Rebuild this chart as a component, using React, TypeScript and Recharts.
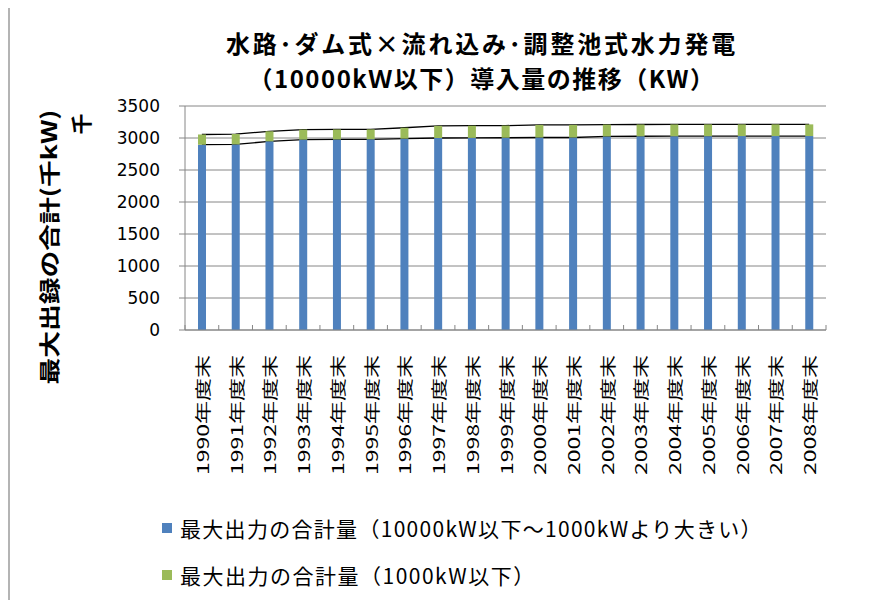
import { Bar, CartesianGrid, ComposedChart, Line, XAxis, YAxis } from 'recharts'

// 水力発電（10000kW以下）の年度末導入量、単位は千kW
const YEARS = [
  '1990年度末', '1991年度末', '1992年度末', '1993年度末', '1994年度末',
  '1995年度末', '1996年度末', '1997年度末', '1998年度末', '1999年度末',
  '2000年度末', '2001年度末', '2002年度末', '2003年度末', '2004年度末',
  '2005年度末', '2006年度末', '2007年度末', '2008年度末',
]
const OVER_1000KW = [
  2895, 2900, 2948, 2975, 2978, 2980, 2990, 3000, 3002, 3004,
  3008, 3008, 3025, 3027, 3028, 3029, 3030, 3030, 3030,
]
const UNDER_1000KW = [
  160, 162, 157, 157, 156, 155, 170, 190, 190, 190,
  197, 197, 185, 184, 184, 184, 183, 183, 183,
]
const Y_TICKS = [0, 500, 1000, 1500, 2000, 2500, 3000, 3500]

const SERIES_NAMES = [
  '最大出力の合計量（10000kW以下～1000kWより大きい）',
  '最大出力の合計量（1000kW以下）',
]
const TITLE_LINES = [
  '水路･ダム式×流れ込み･調整池式水力発電',
  '（10000kＷ以下）導入量の推移（KW）',
]
const Y_TITLE = ['最大出録の合計(千kW)', '千']

const COLORS = ['#4F81BD', '#9BBB59']
const CJK = '"Noto Sans CJK JP", "Noto Sans", sans-serif'

const data = YEARS.map((year, i) => ({
  year,
  over: OVER_1000KW[i],
  under: UNDER_1000KW[i],
}))

const PLOT_LEFT = 185
const PLOT_RIGHT = 826
const BAND = (PLOT_RIGHT - PLOT_LEFT) / YEARS.length

function YearTick({ x, y, payload, index }: any) {
  const half = BAND / 2
  const labelY = y + 25
  return (
    <g>
      <line x1={x - half} x2={x - half} y1={y - 5} y2={y} stroke="#868686" />
      {index === YEARS.length - 1 && (
        <line x1={x + half} x2={x + half} y1={y - 5} y2={y} stroke="#868686" />
      )}
      <text
        x={x}
        y={labelY}
        transform={`rotate(-90 ${x} ${labelY})`}
        textAnchor="end"
        dominantBaseline="central"
        fontFamily={CJK}
        fontSize={16}
        fill="#000"
        textLength={120}
        lengthAdjust="spacingAndGlyphs"
      >
        {payload.value}
      </text>
    </g>
  )
}

function YTitle() {
  return (
    <g fontFamily={CJK} fontWeight="bold" fill="#000">
      <text
        x={48}
        y={247}
        transform="rotate(-90 48 247)"
        textAnchor="middle"
        dominantBaseline="central"
        fontSize={21}
        textLength={275}
        lengthAdjust="spacingAndGlyphs"
      >
        {Y_TITLE[0]}
      </text>
      <text
        x={80}
        y={124}
        transform="rotate(-90 80 124)"
        textAnchor="middle"
        dominantBaseline="central"
        fontSize={21}
      >
        {Y_TITLE[1]}
      </text>
    </g>
  )
}

export default function App() {
  return (
    <div
      style={{
        position: 'relative',
        width: 894,
        height: 608,
        margin: -8,
        overflow: 'hidden',
        background: '#fff',
      }}
    >
      <div
        style={{
          position: 'absolute',
          left: 8,
          top: 6,
          width: 884,
          height: 620,
          border: '2px solid #b4b4b4',
          boxSizing: 'border-box',
        }}
      />
      <div
        style={{
          position: 'absolute',
          left: 182,
          top: 25,
          width: 600,
          textAlign: 'center',
          fontFamily: CJK,
          fontWeight: 'bold',
          fontSize: 24,
          lineHeight: '35px',
          color: '#000',
        }}
      >
        <div style={{ letterSpacing: 2.8 }}>{TITLE_LINES[0]}</div>
        <div style={{ letterSpacing: 1.5 }}>{TITLE_LINES[1]}</div>
      </div>
      <div style={{ position: 'absolute', left: 0, top: 0 }}>
        <ComposedChart
          width={894}
          height={608}
          data={data}
          margin={{ top: 106, right: 894 - PLOT_RIGHT, bottom: 128, left: 0 }}
          barSize={8}
        >
          <CartesianGrid vertical={false} stroke="#868686" />
          <XAxis
            dataKey="year"
            interval={0}
            height={150}
            tickSize={0}
            tickMargin={0}
            tickLine={false}
            axisLine={{ stroke: '#868686' }}
            tick={<YearTick />}
          />
          <XAxis xAxisId="top" orientation="top" height={0} tick={false} tickLine={false} axisLine={{ stroke: '#000' }} />
          <YAxis
            domain={[0, 3500]}
            ticks={Y_TICKS}
            interval={0}
            width={PLOT_LEFT}
            tickSize={6}
            tickMargin={19}
            axisLine={{ stroke: '#868686' }}
            tickLine={{ stroke: '#868686' }}
            tick={{ fontFamily: '"DejaVu Sans", sans-serif', fontSize: 17, fill: '#000' }}
            label={<YTitle />}
          />
          <YAxis yAxisId="right" orientation="right" width={0} tick={false} tickLine={false} axisLine={{ stroke: '#000' }} />
          <Line
            dataKey="over"
            stroke="#000"
            strokeWidth={1.3}
            dot={false}
            activeDot={false}
            isAnimationActive={false}
            zIndex={250}
          />
          <Line
            dataKey={(d: any) => d.over + d.under}
            stroke="#000"
            strokeWidth={1.3}
            dot={false}
            activeDot={false}
            isAnimationActive={false}
            zIndex={250}
          />
          <Bar dataKey="over" name={SERIES_NAMES[0]} stackId="a" fill={COLORS[0]} isAnimationActive={false} />
          <Bar dataKey="under" name={SERIES_NAMES[1]} stackId="a" fill={COLORS[1]} isAnimationActive={false} />
        </ComposedChart>
      </div>
      <div
        style={{
          position: 'absolute',
          left: 162,
          top: 504,
          fontFamily: CJK,
          fontSize: 21,
          color: '#000',
        }}
      >
        {SERIES_NAMES.map((name, i) => (
          <div key={name} style={{ display: 'flex', alignItems: 'center', height: 47 }}>
            <span
              style={{
                display: 'inline-block',
                width: 10,
                height: 10,
                background: COLORS[i],
                marginRight: 8,
              }}
            />
            <span style={{ letterSpacing: i === 0 ? 1.3 : 1.5 }}>{name}</span>
          </div>
        ))}
      </div>
    </div>
  )
}
